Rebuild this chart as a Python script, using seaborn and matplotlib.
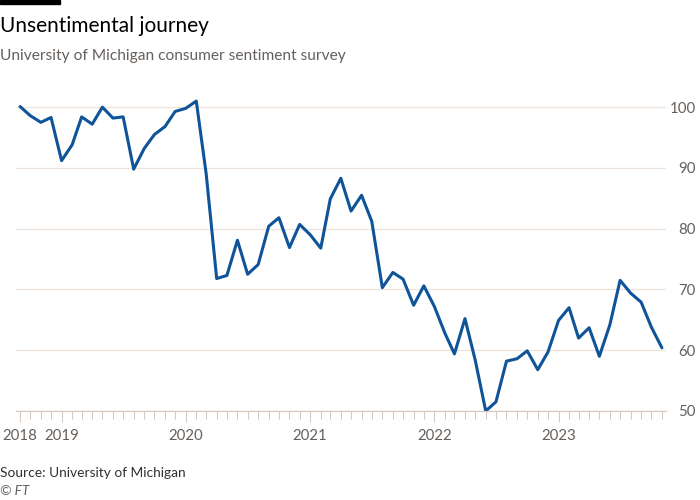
import pandas as pd
import matplotlib
matplotlib.use('Agg')
import matplotlib.pyplot as plt
import matplotlib.dates as mdates
import seaborn as sns

# Monthly index values, Sep 2018 - Nov 2023
start_month = '2018-09-01'
sentiment = [
    100.1, 98.6, 97.5, 98.3,
    91.2, 93.8, 98.4, 97.2, 100.0, 98.2, 98.4, 89.8, 93.2, 95.5, 96.8, 99.3,
    99.8, 101.0, 89.1, 71.8, 72.3, 78.1, 72.5, 74.1, 80.4, 81.8, 76.9, 80.7,
    79.0, 76.8, 84.9, 88.3, 82.9, 85.5, 81.2, 70.3, 72.8, 71.7, 67.4, 70.6,
    67.2, 62.8, 59.4, 65.2, 58.4, 50.0, 51.5, 58.2, 58.6, 59.9, 56.8, 59.7,
    64.9, 67.0, 62.0, 63.7, 59.0, 64.2, 71.5, 69.4, 67.9, 63.8, 60.4,
]
year_ticks = ['2018-09-01', '2019-01-01', '2020-01-01', '2021-01-01', '2022-01-01', '2023-01-01']
year_labels = ['2018', '2019', '2020', '2021', '2022', '2023']
y_ticks = [50, 60, 70, 80, 90, 100]

df = pd.DataFrame({
    'date': pd.date_range(start_month, periods=len(sentiment), freq='MS'),
    'value': sentiment,
})

sns.set_style('white')
plt.rcParams['font.family'] = ['Lato', 'DejaVu Sans']

text_grey = '#66605c'
grid_col = '#ebe3dc'
axis_col = '#d4cac1'

fig = plt.figure(figsize=(7, 5), dpi=100)
ax = fig.add_axes([16 / 700, 1 - 411 / 500, 650 / 700, (411 - 95) / 500])

sns.lineplot(data=df, x='date', y='value', ax=ax, color='#0f5499', linewidth=2.2)

ax.set_ylim(50, 102)
ax.set_xlim(pd.Timestamp(start_month) - pd.Timedelta(days=12),
            df['date'].iloc[-1] + pd.Timedelta(days=12))

ax.yaxis.tick_right()
ax.set_yticks(y_ticks)
ax.set_yticklabels([str(v) for v in y_ticks])
for lab in ax.get_yticklabels():
    lab.set_horizontalalignment('right')
ax.tick_params(axis='y', length=0, pad=21.5, labelsize=10.8, labelcolor=text_grey)
ax.grid(axis='y', color=grid_col, linewidth=0.9)
ax.grid(axis='x', visible=False)

ax.set_xticks(pd.to_datetime(year_ticks))
ax.set_xticklabels(year_labels)
ax.xaxis.set_minor_locator(mdates.MonthLocator())
ax.tick_params(axis='x', which='major', length=8, width=0.8, color=axis_col,
               labelsize=10.8, labelcolor=text_grey, pad=5, direction='out')
ax.tick_params(axis='x', which='minor', length=6, width=0.8, color=axis_col, direction='out')
ax.tick_params(axis='x', bottom=True, which='both')

for side in ['top', 'right', 'left']:
    ax.spines[side].set_visible(False)
ax.spines['bottom'].set_color(axis_col)
ax.spines['bottom'].set_linewidth(0.9)
ax.set_xlabel('')
ax.set_ylabel('')

# FT header bar
fig.patches.append(plt.Rectangle((0, 1 - 4 / 500), 60 / 700, 4 / 500,
                                 transform=fig.transFigure, color='black'))

fig.text(0.0, 1 - 32 / 500, 'Unsentimental journey', fontsize=15, color='#000000',
         ha='left', va='baseline')
fig.text(0.0, 1 - 60 / 500, 'University of Michigan consumer sentiment survey',
         fontsize=11.2, color=text_grey, ha='left', va='baseline')
fig.text(0.0, 1 - 477 / 500, 'Source: University of Michigan', fontsize=9.9,
         color='#33302e', ha='left', va='baseline')
fig.text(0.0, 1 - 495 / 500, '© FT', fontsize=9.9, color=text_grey, style='italic',
         ha='left', va='baseline')

plt.savefig('out.png', dpi=100)
